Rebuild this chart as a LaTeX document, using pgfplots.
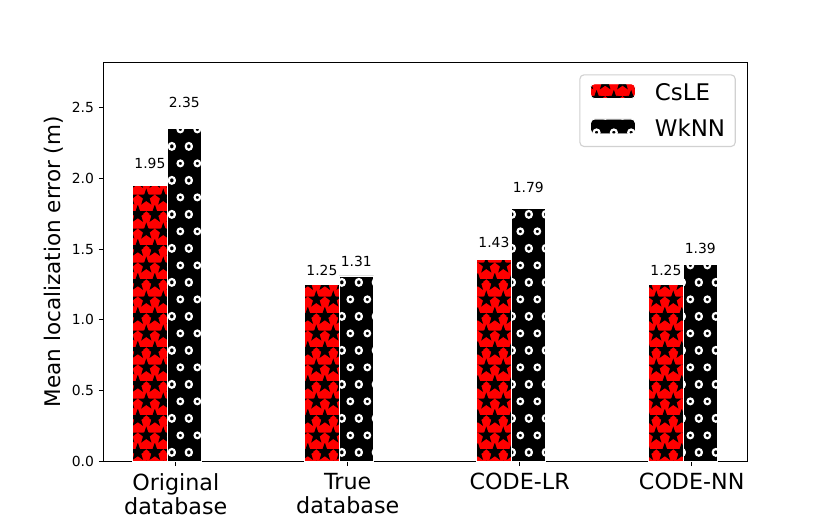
\documentclass[border=0pt]{standalone}
\usepackage{fontspec}
\setmainfont{DejaVu Sans}
\usepackage{pgfplots}
\pgfplotsset{compat=1.18}
\usetikzlibrary{patterns.meta}

\tikzdeclarepattern{
  name=mplstars,
  type=uncolored,
  bounding box={(0pt,0pt) and (12.45pt,24.2pt)},
  tile size={(12.45pt,24.2pt)},
  code={
    \foreach \cx/\cy in {0/0, 12.45/0, 0/24.2, 12.45/24.2, 6.225/12.1} {
      \filldraw[line width=0.7pt, line join=miter, shift={(\cx pt,\cy pt)}] (90:5.4pt) -- (126:2.15pt) -- (162:5.4pt) -- (198:2.15pt) -- (234:5.4pt) -- (270:2.15pt) -- (306:5.4pt) -- (342:2.15pt) -- (18:5.4pt) -- (54:2.15pt) -- cycle;
    }
  }
}
\tikzdeclarepattern{
  name=mplrings,
  type=uncolored,
  bounding box={(0pt,0pt) and (12.45pt,24.2pt)},
  tile size={(12.45pt,24.2pt)},
  code={
    \foreach \cx/\cy in {0/0, 12.45/0, 0/24.2, 12.45/24.2, 6.225/12.1} {
      \draw[line width=1.6pt] (\cx pt,\cy pt) circle[radius=2.1pt];
    }
  }
}

\pgfkeys{/pgf/number format/assume math mode=true}

\begin{document}
\begin{tikzpicture}
\useasboundingbox (0,0) rectangle (597.6pt,373.68pt);
\begin{axis}[
  at={(74.7pt,41.5pt)}, anchor=south west,
  scale only axis,
  width=463.7pt, height=287.3pt,
  xmin=-0.4186, xmax=3.326,
  ymin=0, ymax=2.82,
  axis line style={line width=0.8pt},
  every tick/.style={line width=0.8pt, black},
  tick align=outside,
  major tick length=3.5pt,
  xtick pos=bottom, ytick pos=left,
  xtick={0,1,2,3},
  xticklabels={{Original\\database},{True\\database},{CODE-LR},{CODE-NN}},
  xticklabel style={align=center, font=\fontsize{16}{17.6}\selectfont, inner sep=0pt, yshift=-4.8pt},
  ytick={0,0.5,1,1.5,2,2.5},
  yticklabel style={font=\fontsize{10}{12}\selectfont, /pgf/number format/.cd, fixed, fixed zerofill, precision=1},
  ylabel={Mean localization error (m)},
  every axis y label/.style={at={(axis description cs:-0.078,0.5)}, rotate=90, anchor=center, font=\fontsize{15.5}{18}\selectfont},
  ybar, bar width=0.2,
  nodes near coords,
  visualization depends on=rawy\as\rawy,
  nodes near coords style={font=\fontsize{10}{12}\selectfont, anchor=center, yshift={8.18pt*\rawy}, /pgf/number format/.cd, fixed, fixed zerofill, precision=2},
  legend style={at={(0.9814,0.970)}, anchor=north east, draw=black!18, line width=0.8pt, rounded corners=3pt, font=\fontsize{16.5}{19}\selectfont, inner xsep=7.3pt, inner ysep=6pt, row sep=11.5pt, column sep=0pt, nodes={inner sep=0pt}},
  /tikz/every odd column/.style={column sep=13.7pt},
  legend cell align=left,
  legend image code/.code={\draw[#1] (0pt,-4pt) rectangle (32.4pt,6.8pt);},
]
\addplot[bar shift=-0.15, fill=red, draw=white, line width=0.6pt, postaction={pattern=mplstars, pattern color=black}]
  coordinates {(0,1.95) (1,1.25) (2,1.43) (3,1.25)};
\addlegendentry{CsLE}
\addplot[bar shift=0.05, fill=black, draw=white, line width=0.6pt, postaction={pattern=mplrings, pattern color=white}]
  coordinates {(0,2.35) (1,1.31) (2,1.79) (3,1.39)};
\addlegendentry{WkNN}
\end{axis}
\end{tikzpicture}
\end{document}
